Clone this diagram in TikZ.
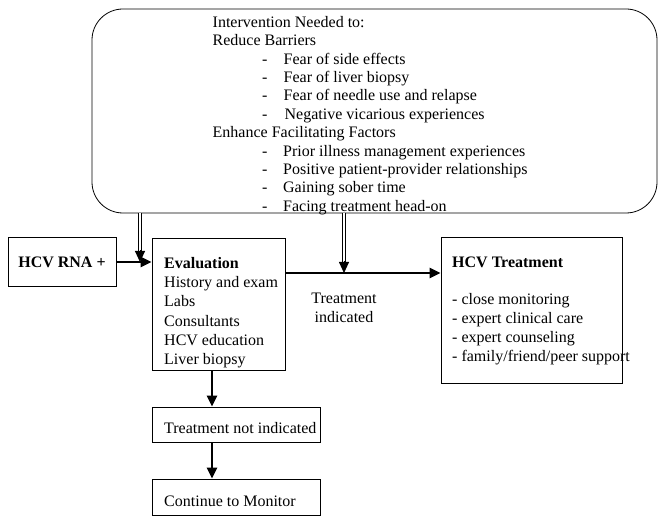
\documentclass[tikz,border=0pt]{standalone}
\usepackage{fontspec}
\setmainfont{Liberation Serif}
\usetikzlibrary{arrows.meta,calc}
\begin{document}
\begin{tikzpicture}[x=1pt,y=-1pt,
  every node/.style={font=\fontsize{16}{19.3}\selectfont},
  box/.style={draw,line width=0.8pt,inner sep=0pt},
  txt/.style={inner sep=0pt,align=left,anchor=north west},
  thick arrow/.style={line width=2.6pt,-{Triangle[length=11pt,width=10pt]}},
  dbl line/.style={double,double distance=2pt,line width=0.9pt,shorten >=10pt},
  dbl tip/.style={line width=0.9pt,-{Triangle[length=11pt,width=10pt]}}]
\useasboundingbox (0,0) rectangle (665,524);
% top rounded box
\node[draw,line width=0.8pt,rounded corners=31pt,minimum width=565pt,minimum height=204pt,inner sep=0pt] (top) at (374.5,111) {};
\node[txt,font=\fontsize{16}{18.4}\selectfont] (toptext) at (212.5,16) {Intervention Needed to:\\
Reduce Barriers\\
\hspace*{49.5pt}\makebox[21.5pt][l]{-}Fear of side effects\\
\hspace*{49.5pt}\makebox[21.5pt][l]{-}Fear of liver biopsy\\
\hspace*{49.5pt}\makebox[21.5pt][l]{-}Fear of needle use and relapse\\
\hspace*{49.5pt}\makebox[22.5pt][l]{-}Negative vicarious experiences\\
Enhance Facilitating Factors\\
\hspace*{49.5pt}\makebox[21pt][l]{-}Prior illness management experiences\\
\hspace*{49.5pt}\makebox[21pt][l]{-}Positive patient-provider relationships\\
\hspace*{49.5pt}\makebox[21pt][l]{-}Gaining sober time\\
\hspace*{49.5pt}\makebox[21pt][l]{-}Facing treatment head-on};
% boxes
\node[box,minimum width=108pt,minimum height=49pt,font=\fontsize{16}{19.3}\selectfont\bfseries] (hcv) at (62,262) {HCV RNA +};
\node[box,minimum width=133pt,minimum height=132pt] (eval) at (218.5,304) {};
\node[txt] (evaltext) at (164,257) {\textbf{Evaluation}\\History and exam\\Labs\\Consultants\\HCV education\\Liver biopsy};
\node[box,minimum width=181pt,minimum height=146pt] (treat) at (531.5,310) {};
\node[txt] (treattext) at (452,257) {\textbf{HCV Treatment}\\[17pt]- close monitoring\\- expert clinical care\\- expert counseling\\- family/friend/peer support};
\node[box,minimum width=168pt,minimum height=35pt] (notind) at (236,424.5) {};
\node[txt,anchor=west] (notindtext) at (164,428) {Treatment not indicated};
\node[box,minimum width=168pt,minimum height=36pt] (cont) at (236,497) {};
\node[txt,anchor=west] (conttext) at (164,501.5) {Continue to Monitor};
\node[inner sep=0pt,align=center] (indlabel) at (344,308) {Treatment\\indicated};
% connectors
\coordinate (j1) at (140,262);
\coordinate (j2) at (344,273);
\coordinate (j1t) at (140,250);
\coordinate (j2t) at (344,261);
\draw[thick arrow] (hcv.east) -- (hcv.east -| eval.west);
\draw[thick arrow] (eval.east |- j2) -- (treat.west |- j2);
\draw[dbl line] (top.south -| j1) -- (j1);
\draw[dbl tip] (j1t) -- (j1);
\draw[dbl line] (top.south -| j2) -- (j2);
\draw[dbl tip] (j2t) -- (j2);
\draw[thick arrow] (eval.south -| 212,0) -- (notind.north -| 212,0);
\draw[thick arrow] (notind.south -| 212,0) -- (cont.north -| 212,0);
\end{tikzpicture}
\end{document}
